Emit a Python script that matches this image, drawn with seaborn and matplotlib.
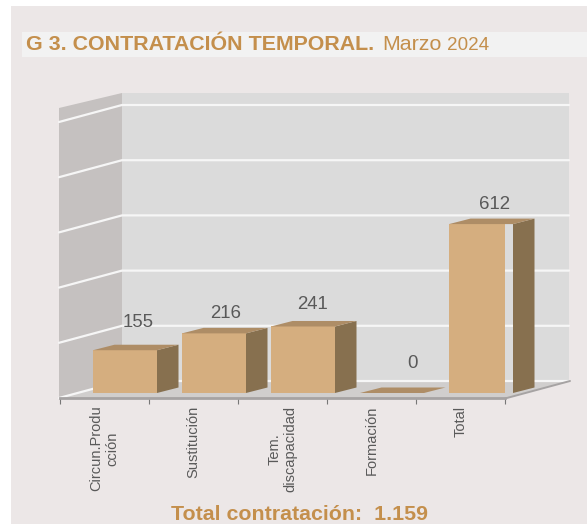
import numpy as np
import seaborn as sns
from matplotlib import pyplot as plt

categories = ["Circun.Produ\ncción", "Sustitución", "Tem.\ndiscapacidad", "Formación", "Total"]
values = [155, 216, 241, 0, 612]
grid_values = [0, 200, 400, 600, 800, 1000]

# layout, in pixels of the picture
PX_PER_UNIT = 0.276
STEP = 89
AX_LEFT, AX_RIGHT, AX_TOP, AX_BOTTOM = 60, 505, 93, 398
BAR_BASE = 393
FIRST_BAR = 125
label_lift = [28, 20, 22, 30, 20]
label_shift = [13, 12, 10, 21, 13]

FRONT, SIDE, TOP = "#d5ae7f", "#87704f", "#ae8d66"
PANEL = "#ece7e7"
TEXT = "#595959"
ORANGE = "#c48f4c"

sns.set_theme(style="white")
plt.rcParams['font.family'] = ['Liberation Sans', 'DejaVu Sans']

fig = plt.figure(figsize=(5.87, 5.24), dpi=100, facecolor="white")

# background: panel and 3d walls, drawn in pixels
bg = fig.add_axes([0, 0, 1, 1])
bg.set_xlim(0, 587)
bg.set_ylim(524, 0)
bg.axis("off")
bg.fill([11, 587, 587, 11], [6, 6, 524, 524], color=PANEL, lw=0)
bg.fill([22, 587, 587, 22], [32, 32, 57, 57], color="#f2f2f2", lw=0)
bg.fill([122, 569, 569, 122], [93, 93, 381, 381], color="#dbdbdb", lw=0)
bg.fill([59, 122, 122, 59], [108, 93, 381, 398], color="#c5c1c0", lw=0)
bg.fill([59, 122, 569, 505], [398, 381, 381, 398], color="#d0cecd", lw=0)
for v in grid_values:
    y = 381 - v * PX_PER_UNIT
    bg.plot([59, 122, 569], [y + 17, y, y], color="#f6f6f6", lw=1.6, solid_joinstyle="miter")
bg.plot([505, 570], [398.5, 381], color="#a6a3a3", lw=1.4)

bg.text(26, 44.5, "G 3. CONTRATACIÓN TEMPORAL.", color=ORANGE, fontsize=15.4,
        fontweight="bold", va="center", ha="left")
bg.text(382, 44.5, "Marzo", color=ORANGE, fontsize=15.4, va="center", ha="left")
bg.text(447, 45, "2024", color=ORANGE, fontsize=13.6, va="center", ha="left")
bg.text(299.5, 514, "Total contratación:  1.159", color=ORANGE, fontsize=15.4,
        fontweight="bold", va="center", ha="center")

# bars
ax_w, ax_h = AX_RIGHT - AX_LEFT, AX_BOTTOM - AX_TOP
ax = fig.add_axes([AX_LEFT / 587, 1 - AX_BOTTOM / 524, ax_w / 587, ax_h / 524], zorder=1)
ax.patch.set_visible(False)
sns.barplot(x=categories, y=values, ax=ax, color=FRONT, saturation=1, width=64 / STEP)

x_min = -(FIRST_BAR - AX_LEFT) / STEP
y_min = -(AX_BOTTOM - BAR_BASE) / PX_PER_UNIT
ax.set_xlim(x_min, x_min + ax_w / STEP)
ax.set_ylim(y_min, y_min + ax_h / PX_PER_UNIT)

# side and top faces
dx, dy = 21.5 / STEP, 5.5 / PX_PER_UNIT
for bar in ax.patches:
    x0, w, h = bar.get_x(), bar.get_width(), bar.get_height()
    bar.set_linewidth(0)
    x1 = x0 + w
    if h > 0:
        ax.fill([x1, x1 + dx, x1 + dx, x1], [0, dy, h + dy, h], color=SIDE, lw=0, clip_on=False)
    ax.fill([x0, x1, x1 + dx, x0 + dx], [h, h, h + dy, h + dy], color=TOP, lw=0, clip_on=False)

for i, v in enumerate(values):
    ax.annotate(str(v), (i, v), xytext=(label_shift[i] * 0.72, label_lift[i] * 0.72),
                textcoords="offset points", ha="center", va="center", color=TEXT, fontsize=13.4)

# axis: ticks between categories, labels centred between ticks
x_min_tick = x_min + np.arange(len(categories) + 1)
ax.set_xticks(x_min_tick, [""] * len(x_min_tick))
ax.set_xticks(x_min_tick[:-1] + 0.5, categories, minor=True)
ax.set_yticks([])
ax.tick_params(axis="x", which="major", length=4, width=0.8, color="#777777", bottom=True)
ax.tick_params(axis="x", which="minor", length=0, pad=5.5, labelsize=10.5, labelcolor=TEXT)
plt.setp(ax.get_xticklabels(minor=True), rotation=90, ha="center", va="top", ma="center")

sns.despine(ax=ax, left=True)
ax.spines["bottom"].set_color("#a6a3a3")
ax.spines["bottom"].set_linewidth(2)

fig.savefig("out.png", dpi=100)
